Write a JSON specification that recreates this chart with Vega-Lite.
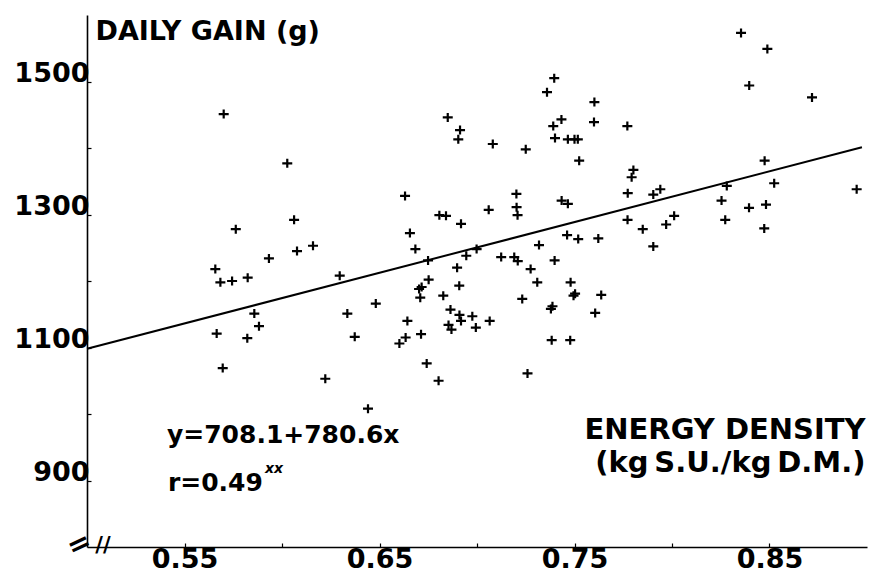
{
  "$schema": "https://vega.github.io/schema/vega-lite/v6.json",
  "width": 780,
  "height": 532,
  "autosize": {"type": "none"},
  "padding": {"left": 87, "top": 15, "right": 11, "bottom": 30},
  "background": "white",
  "config": {
    "view": {"stroke": null},
    "font": "DejaVu Sans",
    "axis": {"grid": false, "domainColor": "black", "domainWidth": 1.6, "tickColor": "black", "tickWidth": 1.2, "labelColor": "black", "titleColor": "black", "labelFont": "DejaVu Sans", "titleFont": "DejaVu Sans", "labelFontWeight": "bold", "titleFontWeight": "bold"}
  },
  "encoding": {
    "x": {
      "field": "x", "type": "quantitative",
      "scale": {"domain": [0.5, 0.9], "nice": false, "zero": false},
      "axis": {
        "values": [0.55, 0.6, 0.65, 0.7, 0.75, 0.8, 0.85],
        "format": ".2f",
        "labelExpr": "round(datum.value*100) % 10 == 5 ? datum.label : ''",
        "labelFontSize": 27, "labelPadding": 3, "labelBaseline": "top",
        "tickSize": -4,
        "title": ["ENERGY DENSITY", "(kg\u2009S.U./kg\u2009D.M.)"],
        "titleFontSize": 29, "titleAlign": "right", "titleBaseline": "alphabetic",
        "titleX": 778, "titleY": -109, "titleLineHeight": 33, "titleAngle": 0
      }
    },
    "y": {
      "field": "y", "type": "quantitative",
      "scale": {"domain": [800, 1600], "nice": false, "zero": false},
      "axis": {
        "values": [900, 1000, 1100, 1200, 1300, 1400, 1500],
        "format": "d",
        "labelExpr": "datum.value % 200 == 100 ? datum.label : ''",
        "labelFontSize": 27, "labelPadding": 2, "labelBaseline": "alphabetic",
        "tickSize": -4,
        "title": "DAILY GAIN (g)",
        "titleFontSize": 27, "titleAngle": 0, "titleAlign": "left", "titleBaseline": "alphabetic",
        "titleX": 8, "titleY": 24
      }
    }
  },
  "layer": [
    {
      "data": {"values": [
        {"x":0.5701,"y":1451},{"x":0.6027,"y":1377},{"x":0.5763,"y":1278},{"x":0.6062,"y":1292},{"x":0.5658,"y":1218},{"x":0.5684,"y":1198},{"x":0.5744,"y":1200},{"x":0.5824,"y":1205},{"x":0.5933,"y":1234},{"x":0.6077,"y":1245},{"x":0.6159,"y":1253},{"x":0.6296,"y":1208},{"x":0.5858,"y":1151},{"x":0.5882,"y":1132},{"x":0.5665,"y":1121},{"x":0.5822,"y":1114},{"x":0.5696,"y":1069},{"x":0.6222,"y":1053},{"x":0.6335,"y":1151},{"x":0.6481,"y":1166},{"x":0.6373,"y":1116},{"x":0.6441,"y":1008},
        {"x":0.6631,"y":1328},{"x":0.6656,"y":1272},{"x":0.6684,"y":1248},{"x":0.6749,"y":1231},{"x":0.6752,"y":1202},{"x":0.6716,"y":1191},{"x":0.6703,"y":1188},{"x":0.6709,"y":1175},{"x":0.6643,"y":1140},{"x":0.6634,"y":1115},{"x":0.6602,"y":1106},{"x":0.6713,"y":1120},{"x":0.6742,"y":1076},{"x":0.6803,"y":1050},{"x":0.6807,"y":1299},{"x":0.6841,"y":1298},{"x":0.6827,"y":1178},{"x":0.6850,"y":1446},{"x":0.6913,"y":1427},{"x":0.6904,"y":1413},
        {"x":0.6918,"y":1286},{"x":0.7060,"y":1307},{"x":0.6998,"y":1248},{"x":0.6945,"y":1238},{"x":0.6898,"y":1220},{"x":0.6909,"y":1193},{"x":0.6864,"y":1157},{"x":0.6910,"y":1149},{"x":0.6918,"y":1140},{"x":0.6976,"y":1147},{"x":0.7065,"y":1140},{"x":0.6854,"y":1134},{"x":0.6869,"y":1127},{"x":0.6994,"y":1130},{"x":0.7081,"y":1406},
        {"x":0.7124,"y":1236},{"x":0.7191,"y":1236},{"x":0.7209,"y":1230},{"x":0.7202,"y":1331},{"x":0.7203,"y":1311},{"x":0.7208,"y":1299},{"x":0.7250,"y":1398},{"x":0.7275,"y":1218},{"x":0.7309,"y":1198},{"x":0.7318,"y":1254},{"x":0.7232,"y":1173},{"x":0.7259,"y":1061},{"x":0.7387,"y":1162},{"x":0.7379,"y":1158},{"x":0.7383,"y":1111},{"x":0.7398,"y":1231},{"x":0.7396,"y":1505},{"x":0.7359,"y":1484},{"x":0.7433,"y":1443},{"x":0.7391,"y":1433},{"x":0.7400,"y":1415},
        {"x":0.7434,"y":1321},{"x":0.7466,"y":1316},{"x":0.7462,"y":1269},{"x":0.7519,"y":1263},{"x":0.7622,"y":1264},{"x":0.7480,"y":1198},{"x":0.7495,"y":1178},{"x":0.7503,"y":1181},{"x":0.7637,"y":1179},{"x":0.7606,"y":1152},{"x":0.7478,"y":1111},{"x":0.7466,"y":1413},{"x":0.7500,"y":1413},{"x":0.7517,"y":1413},{"x":0.7524,"y":1381},{"x":0.7602,"y":1469},{"x":0.7600,"y":1439},{"x":0.7771,"y":1433},{"x":0.7802,"y":1367},{"x":0.7793,"y":1356},{"x":0.7773,"y":1332},{"x":0.7772,"y":1292},{"x":0.7850,"y":1278},{"x":0.7904,"y":1330},{"x":0.7940,"y":1338},{"x":0.7904,"y":1252},
        {"x":0.7970,"y":1285},{"x":0.8011,"y":1298},{"x":0.8254,"y":1321},{"x":0.8281,"y":1343},{"x":0.8273,"y":1292},{"x":0.8395,"y":1310},{"x":0.8482,"y":1315},{"x":0.8473,"y":1279},{"x":0.8475,"y":1381},{"x":0.8524,"y":1347},{"x":0.8396,"y":1494},{"x":0.8489,"y":1549},{"x":0.8718,"y":1476},{"x":0.8947,"y":1338},{"x":0.8354,"y":1573}
      ]},
      "mark": {"type": "point", "shape": "M-1,0H1M0,-0.9V0.9", "size": 100, "filled": false, "stroke": "black", "strokeWidth": 2.2, "opacity": 1}
    },
    {
      "data": {"values": [{"x": 0.5, "y": 1098}, {"x": 0.8974, "y": 1401}]},
      "mark": {"type": "line", "color": "black", "strokeWidth": 2}
    },
    {
      "data": {"values": [
        {"x": 0.541, "y": 956, "label": "y=708.1+780.6x"},
        {"x": 0.5415, "y": 884, "label": "r=0.49"}
      ]},
      "mark": {"type": "text", "align": "left", "baseline": "alphabetic", "font": "DejaVu Sans", "fontWeight": "bold", "fontSize": 25, "color": "black"},
      "encoding": {"text": {"field": "label"}}
    },
    {
      "data": {"values": [{"x": 0.5913, "y": 911, "label": "xx"}]},
      "mark": {"type": "text", "align": "left", "baseline": "alphabetic", "font": "DejaVu Sans", "fontStyle": "italic", "fontWeight": "bold", "fontSize": 14, "color": "black"},
      "encoding": {"text": {"field": "label"}}
    },
    {
      "data": {"values": [{"x": 0.5, "y": 800, "label": "="}]},
      "mark": {"type": "text", "align": "center", "baseline": "middle", "font": "DejaVu Sans", "fontWeight": "bold", "fontSize": 28, "angle": -25, "dx": -6, "dy": -5, "color": "black"},
      "encoding": {"text": {"field": "label"}}
    },
    {
      "data": {"values": [{"x": 0.5, "y": 800, "label": "//"}]},
      "mark": {"type": "text", "align": "center", "baseline": "middle", "font": "DejaVu Sans", "fontWeight": "bold", "fontSize": 21, "dx": 16, "dy": -1, "color": "black"},
      "encoding": {"text": {"field": "label"}}
    }
  ]
}
